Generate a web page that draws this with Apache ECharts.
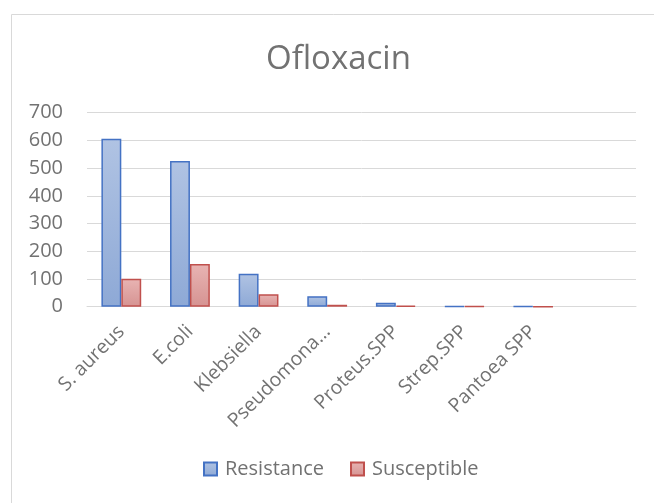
<!DOCTYPE html>
<html><head><meta charset="utf-8">
<script src="https://cdn.jsdelivr.net/npm/echarts@6/dist/echarts.min.js"></script>
<style>html,body{margin:0;padding:0;background:#fff}#c{width:654px;height:503px}</style>
</head><body><div id="c"></div>
<script>
var categories = ['S. aureus', 'E.coli', 'Klebsiella', 'Pseudomona…', 'Proteus.SPP', 'Strep.SPP', 'Pantoea SPP', ''];
var resistance = [606, 526, 119, 38, 14, 2, 2, null];
var susceptible = [101, 154, 45, 7, 4, 2, 0, null];
var yTicks = [0, 100, 200, 300, 400, 500, 600, 700];

var font = 'Open Sans';
var textColor = '#727272';
var chart = echarts.init(document.getElementById('c'));
function grad(top, bottom) {
  return new echarts.graphic.LinearGradient(0, 0, 0, 1, [{offset: 0, color: top}, {offset: 1, color: bottom}]);
}
chart.setOption({
  animation: false,
  title: {text: 'Ofloxacin', left: 261, top: 38, textStyle: {fontFamily: font, fontSize: 33, fontWeight: 'normal', color: textColor}},
  graphic: [{type: 'rect', shape: {x: 11.5, y: 14.5, width: 700, height: 600}, style: {fill: 'none', stroke: '#d9d9d9', lineWidth: 1}, silent: true}],
  grid: {left: 87, right: 18, top: 112.7, bottom: 196.3, containLabel: false},
  legend: {bottom: 19, left: 198, itemWidth: 13, itemHeight: 13, itemGap: 26,
    textStyle: {fontFamily: font, fontSize: 20, color: textColor, padding: [0, 0, 0, 3]},
    data: [{name: 'Resistance', icon: 'rect'}, {name: 'Susceptible', icon: 'rect'}]},
  xAxis: {type: 'category', data: categories,
    axisLine: {lineStyle: {color: '#d9d9d9', width: 1}}, axisTick: {show: false},
    axisLabel: {rotate: 45, interval: 0, margin: 22, fontFamily: font, fontSize: 19.5, color: textColor}},
  yAxis: {type: 'value', min: 0, max: 700, interval: 100,
    axisLine: {show: false}, axisTick: {show: false},
    splitLine: {lineStyle: {color: '#d9d9d9', width: 1}},
    axisLabel: {margin: 24, fontFamily: font, fontSize: 20, color: textColor,
      formatter: function (v) { return yTicks.indexOf(v) >= 0 ? String(v) : ''; }}},
  series: [
    {name: 'Resistance', type: 'bar', data: resistance, barGap: '0%', barCategoryGap: '42%',
      itemStyle: {color: grad('#b0c3e3', '#8ea9d6'), borderColor: '#4472c4', borderWidth: 1.5}},
    {name: 'Susceptible', type: 'bar', data: susceptible,
      itemStyle: {color: grad('#e8b4b3', '#d69392'), borderColor: '#c0504d', borderWidth: 1.5}}
  ]
});
</script></body></html>
